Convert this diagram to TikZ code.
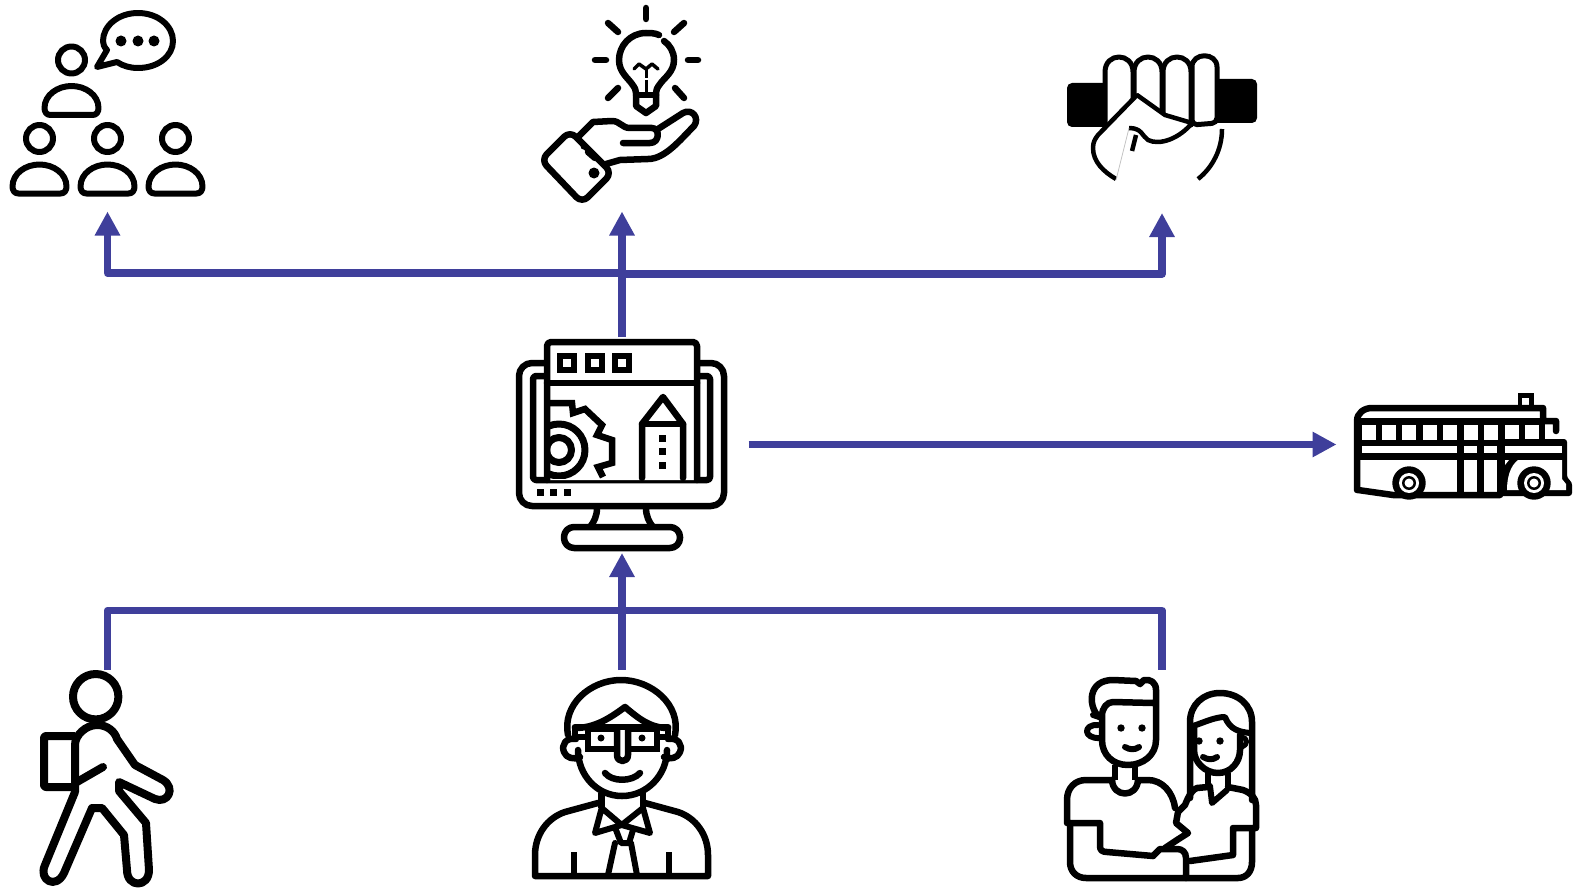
\documentclass[tikz,border=0pt]{standalone}
\usetikzlibrary{arrows.meta}
\definecolor{linkblue}{HTML}{3F3F9B}
\tikzset{
  icon/.style={line width=6.5pt,line cap=round,line join=round,black},
  thinicon/.style={icon,line width=4.5pt},
  link/.style={line width=7.5pt,linkblue,line join=round},
  linkhead/.style={link,-{Triangle[width=24pt,length=24pt]}},
  member/.pic={
    \draw[icon,line width=6pt] (0,0) circle (13.5);
    \draw[icon,line width=6pt] (-21,55) -- (21,55) .. controls (25,55) and (27,52) .. (27,48)
      .. controls (27,35) and (14,26) .. (0,26) .. controls (-14,26) and (-27,35) .. (-27,48)
      .. controls (-27,52) and (-25,55) .. (-21,55) -- cycle;
  }
}
\begin{document}
\begin{tikzpicture}[x=1pt,y=-1pt]
  \useasboundingbox (0,0) rectangle (1573,888);
  % connector ends
  \coordinate (crowdIn) at (107.5,211.5);
  \coordinate (ideaIn) at (622,211.5);
  \coordinate (fistIn) at (1162,213);
  \coordinate (splitL) at (622,273);
  \coordinate (splitR) at (622,274);
  \coordinate (hubTop) at (622,337);
  \coordinate (hubRight) at (748.5,444.5);
  \coordinate (busIn) at (1336.5,444.5);
  \coordinate (hubIn) at (622,553);
  \coordinate (hikerOut) at (107.5,670);
  \coordinate (teacherOut) at (622,670);
  \coordinate (coupleOut) at (1162,670);
  \coordinate (merge) at (622,610.5);
  \draw[linkhead] (hubTop) -- (ideaIn);
  \draw[linkhead] (splitL) -| (crowdIn);
  \draw[linkhead] (splitR) -| (fistIn);
  \draw[linkhead] (hubRight) -- (busIn);
  \draw[linkhead] (teacherOut) -- (hubIn);
  \draw[link] (hikerOut) |- (merge) -| (coupleOut);

  % crowd
  \pic at (71.5,60) {member};
  \pic at (39.5,138.5) {member};
  \pic at (107.5,138.5) {member};
  \pic at (175.5,138.5) {member};
  \draw[icon,line width=6pt] (107,50) -- (97,67) -- (117,62) .. controls (123,66) and (130,68) .. (138,68)
    .. controls (158,68) and (173,56) .. (173,41) .. controls (173,26) and (158,13) .. (138,13)
    .. controls (118,13) and (103,26) .. (103,41) .. controls (103,44) and (104,47) .. (107,50) -- cycle;
  \foreach \dotx in {121,138,154} \fill (\dotx,41) circle (5.5);

  % idea
  \draw[icon] (646,8) -- (646,19);
  \draw[icon] (595,60) -- (606,60);
  \draw[icon] (688,60) -- (698,60);
  \draw[icon] (608,23) -- (618,32);
  \draw[icon] (684,23) -- (674,32);
  \draw[icon] (608,98) -- (618,88);
  \draw[icon] (684,98) -- (675,88);
  \draw[icon] (659,35) .. controls (655,33) and (650,33) .. (646,33) .. controls (630,33) and (619,46) .. (619,60)
    .. controls (619,72) and (628,78) .. (632,84) .. controls (635,88) and (636,90) .. (636,93) -- (636,106) -- (646,113) -- (656,106) -- (656,93)
    .. controls (656,90) and (657,88) .. (660,84) .. controls (664,78) and (674,72) .. (674,60) .. controls (674,52) and (670,45) .. (664,41);
  \draw[icon] (636,95) -- (656,95);
  \draw[icon,line width=3.5pt] (634,69) -- (639,64) -- (646,69) -- (652,64) -- (658,69);
  \draw[icon,line width=3pt,line cap=butt] (646,69) -- (646,78);
  \draw[icon,line width=3pt,line cap=butt] (646,80) -- (646,95);
  \draw[icon,rounded corners=8pt] (541,160) -- (570,131) -- (612,173) -- (582,203) -- cycle;
  \fill (594,173) circle (5.5);
  \fill (583.5,146.7) circle (2.8);
  \draw[icon] (588,152) -- (595,158);
  \draw[icon] (578,137) -- (593,122) -- (612,121) .. controls (620,121) and (622,128) .. (630,128) -- (652,128)
    .. controls (660,128) and (660,143) .. (650,143) -- (623,143);
  \draw[icon] (658,129) -- (683,113) .. controls (692,108) and (700,118) .. (694,126)
    .. controls (680,140) and (665,159) .. (648,159) -- (620,160) -- (606,164);

  % fist
  \fill[rounded corners=5pt] (1067,83) rectangle (1110,127);
  \fill[rounded corners=5pt] (1212,79) rectangle (1257,123);
  \foreach \fingerx in {1105,1134,1163} {
    \draw[icon,line width=5pt,fill=white] (\fingerx,125) -- (\fingerx,72)
      .. controls (\fingerx,52) and (\fingerx+28,52) .. (\fingerx+28,72) -- (\fingerx+28,125);
  }
  \draw[icon,line width=5pt,fill=white,rounded corners=5pt] (1192,125) -- (1192,72)
    .. controls (1192,52) and (1217,52) .. (1217,72) -- (1217,123) -- cycle;
  \fill[white] (1095,138) -- (1137,95) -- (1165,115) -- (1192,123) -- (1167,142) -- (1150,180) -- (1116,180) -- cycle;
  \draw[thinicon,line cap=butt] (1116,179) .. controls (1104,172) and (1093,162) .. (1093,148)
    .. controls (1093,142) and (1095,139) .. (1098,135) -- (1137,95) -- (1165,115) -- (1192,123);
  \draw[thinicon,line cap=butt] (1192,123) .. controls (1180,138) and (1160,146) .. (1148,140)
    .. controls (1142,136) and (1142,128) .. (1129,128);
  \draw[gray!50,line width=0.7pt] (1129,128) -- (1116,180);
  \draw[thinicon,line cap=butt] (1136,135) -- (1132,151);
  \draw[thinicon,line cap=butt] (1222,129) .. controls (1222,150) and (1212,168) .. (1198,179);

  % hub
  \draw[icon,rounded corners=13pt] (547,363) -- (519,363) -- (519,506) -- (724,506) -- (724,363) -- (697,363);
  \draw[icon,rounded corners=3pt] (533,376) rectangle (710,480);
  \draw[icon,fill=white,rounded corners=4pt] (547,480) -- (547,342) -- (697,342) -- (697,480);
  \draw[icon] (547,383) -- (697,383);
  \foreach \boxx in {560,588,615} \draw[icon,line cap=butt,line join=miter] (\boxx,356) rectangle ++(14,14);
  \begin{scope}
    \clip (547,395) rectangle (620,478);
    \draw[icon,line width=7pt] (559,450) circle (12.5);
    \draw[icon,line width=7pt] (559,450) circle (26);
    \draw[icon,line cap=butt,line join=miter] (545,403) -- (572,403) -- (573,413) -- (585,409) -- (602,425) -- (597,435)
      -- (612,440) -- (612,463) -- (598,467) -- (603,477);
  \end{scope}
  \draw[icon] (642,478) -- (642,424) -- (663,397) -- (683,424) -- (683,478);
  \draw[icon] (642,424) -- (683,424);
  \foreach \winy in {435,448,462} \fill (659,\winy) rectangle ++(7,7);
  \foreach \ledx in {537,550,564} \fill (\ledx,489) rectangle ++(7,7);
  \draw[icon,line cap=butt] (597,508) .. controls (597,516) and (594,522) .. (590,527);
  \draw[icon,line cap=butt] (646,508) .. controls (646,516) and (649,522) .. (653,527);
  \draw[icon,rounded corners=10pt] (564,527) rectangle (680,548);

  % bus
  \fill (1518,393) rectangle (1534,410);
  \fill[white] (1522,398) rectangle (1529,408);
  \draw[icon] (1357,490) -- (1357,421) .. controls (1357,413) and (1364,408) .. (1372,408) -- (1543,408) -- (1543,421) -- (1556,421) -- (1556,431);
  \fill (1357,418) rectangle (1545,460);
  \foreach \winx in {1362,1382,1402,1423,1443,1464,1484,1505,1525}
    \fill[white] (\winx,425) rectangle ++(14,15);
  \fill[rounded corners=3pt] (1497,439) -- (1567,439) -- (1567,478) -- (1572,482) -- (1572,496) -- (1497,496) -- cycle;
  \foreach \bandl/\bandr in {1362/1457,1464/1477,1484/1497,1505/1562}
    \fill[white] (\bandl,446) rectangle (\bandr,453);
  \fill[white] (1518,460) -- (1562,460) -- (1562,479) -- (1566,484) -- (1566,490) -- (1507,490) .. controls (1507,478) and (1510,466) .. (1518,460) -- cycle;
  \fill[white] (1505,460) -- (1509,460) -- (1505,465) -- cycle;
  \draw[icon] (1358,490) -- (1393,495) -- (1500,495);
  \fill (1457,458) rectangle (1464,495);
  \fill (1477,458) rectangle (1484,495);
  \foreach \wheelx in {1409,1534} {
    \fill (\wheelx,483) circle (16.7);
    \fill[white] (\wheelx,483) circle (10);
    \fill (\wheelx,483) circle (7);
    \fill[white] (\wheelx,483) circle (4.5);
  }

  % hiker
  \draw[icon,line width=8pt] (95.7,696.7) circle (22.7);
  \draw[icon,line width=8pt] (75,792) -- (75,745) .. controls (75,735) and (86,725) .. (97,725)
    .. controls (108,725) and (115,732) .. (117,739) -- (135,765) -- (163,780)
    .. controls (176,788) and (168,804) .. (155,799) -- (119,782) -- (119,791) -- (146,823) -- (149,870)
    .. controls (149,888) and (127,888) .. (127,870) -- (124,835) -- (102,808) -- (92,808) -- (64,873)
    .. controls (56,890) and (38,880) .. (45,865) -- (75,792);
  \draw[icon,line width=8pt,line cap=butt,rounded corners=2pt] (75,736) -- (44,736) -- (44,787) -- (75,787);
  \draw[icon,line width=8pt] (77,782) -- (103,767);

  % teacher
  \draw[icon] (568,735) .. controls (562,705) and (590,680) .. (621,680)
    .. controls (652,680) and (681,705) .. (675,735);
  \draw[icon] (575,728) .. controls (595,728) and (610,718) .. (625,707)
    .. controls (638,718) and (650,728) .. (668,728);
  \draw[icon] (578,750) .. controls (578,775) and (597,796) .. (622,796)
    .. controls (647,796) and (667,775) .. (667,750);
  \draw[icon] (576,739) .. controls (566,737) and (561,745) .. (564,752) .. controls (566,758) and (574,760) .. (580,757);
  \draw[icon] (668,739) .. controls (678,737) and (683,745) .. (680,752) .. controls (678,758) and (670,760) .. (664,757);
  \draw[icon] (575,727) -- (668,727);
  \draw[icon,line width=6pt,line cap=butt] (575,727) -- (575,737) -- (587,737);
  \draw[icon,line width=6pt,line cap=butt] (668,727) -- (668,737) -- (658,737);
  \draw[icon,line join=miter] (588,729) rectangle (617,749);
  \draw[icon,line join=miter] (628,729) rectangle (657,749);
  \fill (601,738) circle (3.5);
  \fill (642,738) circle (3.5);
  \draw[icon] (617,730) -- (617,755) .. controls (617,763) and (628,763) .. (628,755) -- (628,730);
  \draw[icon] (605,773) .. controls (612,782) and (632,782) .. (640,773);
  \draw[icon,line cap=butt] (601.7,793) -- (601.7,808);
  \draw[icon,line cap=butt] (643,793) -- (643,808);
  \draw[icon,line width=6pt] (601.7,808) -- (595,833) -- (621.7,825) -- (650,833) -- (643,808) -- (621.7,825) -- cycle;
  \draw[icon,line width=6pt] (616,830) -- (621,843) -- (629,843) -- (633,830);
  \draw[icon,line width=6pt] (615,843) -- (608,875);
  \draw[icon,line width=6pt] (631,843) -- (637,875);
  \draw[icon] (598,803) -- (565,812) .. controls (547,818) and (535,835) .. (535,855) -- (535,876) -- (708,876) -- (708,855)
    .. controls (708,835) and (696,818) .. (678,812) -- (645,803);
  \draw[icon,line cap=butt] (574,852) -- (574,876);
  \draw[icon,line cap=butt] (669,852) -- (669,876);

  % couple
  \draw[icon] (1098,716) .. controls (1088,705) and (1088,680) .. (1113,680) -- (1136,681) -- (1140,684)
    -- (1144,680) .. controls (1150,679) and (1156,682) .. (1156,690) -- (1156,740)
    .. controls (1156,755) and (1143,765) .. (1128,765) .. controls (1113,765) and (1102,755) .. (1102,740) -- (1102,716)
    .. controls (1102,708) and (1107,702) .. (1113,702) -- (1153,703);
  \draw[icon,line width=6pt] (1093,715) -- (1102,718);
  \draw[icon,line width=6pt] (1098,725) .. controls (1083,724) and (1083,739) .. (1100,738);
  \fill (1121,728) circle (3.7);
  \fill (1142,728) circle (3.7);
  \draw[icon,line width=6pt] (1125,747) .. controls (1130,750) and (1135,750) .. (1139,747);
  \draw[icon,line cap=butt] (1115,765) -- (1115,780);
  \draw[icon,line cap=butt] (1135,765) -- (1135,780);
  \draw[icon] (1112,780) -- (1086,780) .. controls (1075,780) and (1067,788) .. (1067,800) -- (1067,823) -- (1100,823)
    -- (1100,846) .. controls (1100,850) and (1102,852) .. (1107,852) -- (1153,856);
  \draw[icon] (1112,780) .. controls (1113,798) and (1137,798) .. (1138,780) -- (1148,780)
    .. controls (1162,780) and (1173,792) .. (1175,808);
  \draw[icon] (1070,824) -- (1070,862) .. controls (1070,872) and (1077,878) .. (1086,878) -- (1186,878) -- (1186,858)
    .. controls (1186,852) and (1182,849) .. (1177,849) -- (1160,849) -- (1153,856);
  \draw[icon] (1190,798) -- (1190,722) .. controls (1190,705) and (1203,693) .. (1220,693)
    .. controls (1238,693) and (1252,705) .. (1252,722) -- (1252,800);
  \draw[icon,line width=6pt] (1193,726) .. controls (1205,722) and (1215,717) .. (1225,717)
    .. controls (1230,730) and (1240,732) .. (1250,733);
  \draw[icon] (1194,728) -- (1194,750) .. controls (1194,762) and (1205,773) .. (1218,773)
    .. controls (1231,773) and (1240,762) .. (1240,750) -- (1240,735);
  \fill (1199,741) circle (3.7);
  \fill (1220,741) circle (3.7);
  \draw[icon,line width=6pt] (1203,757) .. controls (1208,760) and (1213,760) .. (1217,757);
  \draw[icon,line width=5pt] (1242,737) .. controls (1248,738) and (1248,745) .. (1242,747);
  \draw[icon,line width=6pt,line cap=butt] (1208,773) -- (1208,787);
  \draw[icon,line width=6pt,line cap=butt] (1228,773) -- (1228,787);
  \draw[icon,line width=6pt] (1210,786) -- (1212,803) -- (1227,790);
  \draw[icon] (1208,787) -- (1197,788) .. controls (1191,790) and (1187,800) .. (1185,805) -- (1178,812)
    -- (1176,823) -- (1188,833) -- (1177,840) -- (1165,848);
  \draw[icon] (1228,787) -- (1243,790) .. controls (1251,793) and (1256,798) .. (1256,805) -- (1256,828) -- (1233,828)
    -- (1233,855) -- (1190,861);
  \draw[icon] (1252,830) -- (1252,862) .. controls (1252,872) and (1246,878) .. (1238,878) -- (1186,878);
\end{tikzpicture}
\end{document}
